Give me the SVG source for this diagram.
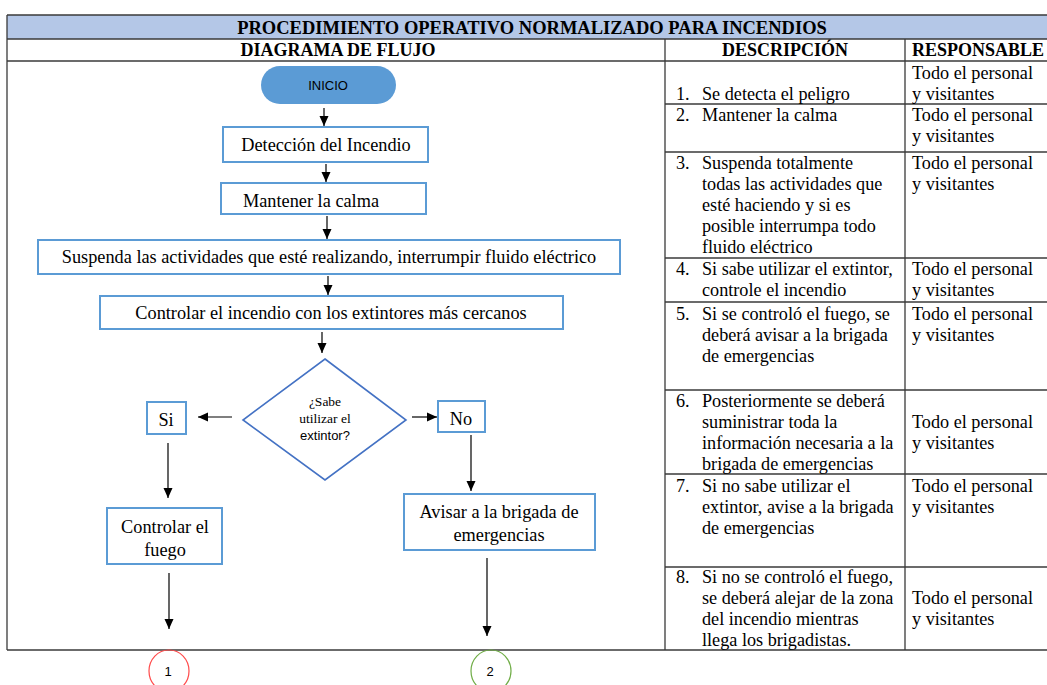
<svg xmlns="http://www.w3.org/2000/svg" width="1047" height="685" viewBox="0 0 1047 685">
<style>
.grid{stroke:#3a3a3a;stroke-width:1.3;fill:none}
.t{font-family:"Liberation Serif","Times New Roman",serif;font-size:18.2px;fill:#000}
.h{font-family:"Liberation Serif","Times New Roman",serif;font-size:18px;font-weight:bold;fill:#000}
.box{fill:#fff;stroke:#5B9BD5;stroke-width:2}
.ft{font-family:"Liberation Serif","Times New Roman",serif;font-size:18.3px;fill:#000}
.sm{font-family:"Liberation Serif","Times New Roman",serif;font-size:13.5px;fill:#000}
.ss{font-family:"Liberation Sans",Arial,sans-serif;font-size:13px;fill:#000}
.c{text-anchor:middle}
.conn line{stroke:#000;stroke-width:1.2;marker-end:url(#ah)}
</style>
<defs>
<marker id="ah" markerUnits="userSpaceOnUse" markerWidth="10" markerHeight="10" refX="10" refY="5" orient="auto">
<path d="M0,0.5 L10,5 L0,9.5 z" fill="#000"/>
</marker>
</defs>
<rect width="1047" height="685" fill="#fff"/>

<g id="table">
<rect x="7" y="15" width="1045" height="24" fill="#B4C7E7"/>
<line class="grid" x1="7" y1="15" x2="1047" y2="15"/>
<line class="grid" x1="7" y1="39" x2="1047" y2="39"/>
<line class="grid" x1="7" y1="61" x2="1047" y2="61"/>
<line class="grid" x1="7" y1="15" x2="7" y2="650"/>
<line class="grid" x1="665" y1="39" x2="665" y2="650"/>
<line class="grid" x1="905" y1="39" x2="905" y2="650"/>
<line class="grid" x1="7" y1="650" x2="1047" y2="650"/>
<line class="grid" x1="665" y1="104" x2="1047" y2="104"/>
<line class="grid" x1="665" y1="152" x2="1047" y2="152"/>
<line class="grid" x1="665" y1="258" x2="1047" y2="258"/>
<line class="grid" x1="665" y1="302" x2="1047" y2="302"/>
<line class="grid" x1="665" y1="390" x2="1047" y2="390"/>
<line class="grid" x1="665" y1="474" x2="1047" y2="474"/>
<line class="grid" x1="665" y1="567" x2="1047" y2="567"/>
<text class="h c" x="532" y="34" style="font-size:18.5px">PROCEDIMIENTO OPERATIVO NORMALIZADO PARA INCENDIOS</text>
<text class="h c" x="338" y="56">DIAGRAMA DE FLUJO</text>
<text class="h c" x="785" y="56">DESCRIPCIÓN</text>
<text class="h" x="912" y="56">RESPONSABLE</text>
</g>

<g id="descripcion">
<text class="t" x="676" y="100">1.</text><text class="t" x="702" y="100">Se detecta el peligro</text>
<text class="t" x="676" y="121">2.</text><text class="t" x="702" y="121">Mantener la calma</text>
<text class="t" x="676" y="169">3.</text>
<text class="t" x="702" y="169">Suspenda totalmente</text>
<text class="t" x="702" y="190">todas las actividades que</text>
<text class="t" x="702" y="211">esté haciendo y si es</text>
<text class="t" x="702" y="232">posible interrumpa todo</text>
<text class="t" x="702" y="253">fluido eléctrico</text>
<text class="t" x="676" y="275">4.</text>
<text class="t" x="702" y="275">Si sabe utilizar el extintor,</text>
<text class="t" x="702" y="296">controle el incendio</text>
<text class="t" x="676" y="320">5.</text>
<text class="t" x="702" y="320">Si se controló el fuego, se</text>
<text class="t" x="702" y="341">deberá avisar a la brigada</text>
<text class="t" x="702" y="362">de emergencias</text>
<text class="t" x="676" y="407">6.</text>
<text class="t" x="702" y="407">Posteriormente se deberá</text>
<text class="t" x="702" y="428">suministrar toda la</text>
<text class="t" x="702" y="449">información necesaria a la</text>
<text class="t" x="702" y="470">brigada de emergencias</text>
<text class="t" x="676" y="492">7.</text>
<text class="t" x="702" y="492">Si no sabe utilizar el</text>
<text class="t" x="702" y="513">extintor, avise a la brigada</text>
<text class="t" x="702" y="534">de emergencias</text>
<text class="t" x="676" y="583">8.</text>
<text class="t" x="702" y="583">Si no se controló el fuego,</text>
<text class="t" x="702" y="604">se deberá alejar de la zona</text>
<text class="t" x="702" y="625">del incendio mientras</text>
<text class="t" x="702" y="646">llega los brigadistas.</text>
</g>

<g id="responsable">
<text class="t" x="912" y="79">Todo el personal</text><text class="t" x="912" y="100">y visitantes</text>
<text class="t" x="912" y="121">Todo el personal</text><text class="t" x="912" y="142">y visitantes</text>
<text class="t" x="912" y="169">Todo el personal</text><text class="t" x="912" y="190">y visitantes</text>
<text class="t" x="912" y="275">Todo el personal</text><text class="t" x="912" y="296">y visitantes</text>
<text class="t" x="912" y="320">Todo el personal</text><text class="t" x="912" y="341">y visitantes</text>
<text class="t" x="912" y="428">Todo el personal</text><text class="t" x="912" y="449">y visitantes</text>
<text class="t" x="912" y="492">Todo el personal</text><text class="t" x="912" y="513">y visitantes</text>
<text class="t" x="912" y="604">Todo el personal</text><text class="t" x="912" y="625">y visitantes</text>
</g>

<g class="conn" id="connectors">
<line x1="324" y1="108" x2="324" y2="126"/>
<line x1="326" y1="164" x2="326" y2="182"/>
<line x1="327" y1="216" x2="327" y2="239"/>
<line x1="328" y1="276" x2="328" y2="295"/>
<line x1="322" y1="332" x2="322" y2="353"/>
<line x1="232" y1="417" x2="198" y2="417"/>
<line x1="412" y1="417" x2="437" y2="417"/>
<line x1="168" y1="443" x2="168" y2="498"/>
<line x1="169" y1="573" x2="169" y2="629"/>
<line x1="471" y1="435" x2="471" y2="491"/>
<line x1="487" y1="558" x2="487" y2="636"/>
</g>

<g id="inicio">
<rect x="261" y="66" width="135" height="38" rx="19" fill="#5B9BD5"/>
<text class="ss c" x="328" y="90" fill="#0d1a33">INICIO</text>
</g>
<g id="deteccion">
<rect class="box" x="223" y="127" width="205" height="35"/>
<text class="ft c" x="326" y="151">Detección del Incendio</text>
</g>
<g id="calma">
<rect class="box" x="221" y="183" width="205" height="31"/>
<text class="ft" x="243" y="207">Mantener la calma</text>
</g>
<g id="suspenda">
<rect class="box" x="38" y="240" width="582" height="34"/>
<text class="ft c" x="329" y="263">Suspenda las actividades que esté realizando, interrumpir fluido eléctrico</text>
</g>
<g id="controlar-incendio">
<rect class="box" x="100" y="296" width="463" height="33"/>
<text class="ft c" x="331" y="319">Controlar el incendio con los extintores más cercanos</text>
</g>
<g id="decision">
<polygon points="325,359 406,420 325,480 243,420" fill="#fff" stroke="#4472C4" stroke-width="1.6"/>
<text class="sm c" x="325" y="406">¿Sabe</text>
<text class="sm c" x="325" y="423">utilizar el</text>
<text class="ss c" x="325" y="440">extintor?</text>
</g>
<g id="si">
<rect class="box" x="147" y="402" width="39" height="32"/>
<text class="ft c" x="166" y="426">Si</text>
</g>
<g id="no">
<rect class="box" x="438" y="401" width="47" height="31"/>
<text class="ft c" x="461" y="425">No</text>
</g>
<g id="controlar-fuego">
<rect class="box" x="107" y="508" width="115" height="56"/>
<text class="ft c" x="165" y="533">Controlar el</text>
<text class="ft c" x="165" y="556">fuego</text>
</g>
<g id="avisar">
<rect class="box" x="404" y="494" width="191" height="56"/>
<text class="ft c" x="499" y="518">Avisar a la brigada de</text>
<text class="ft c" x="499" y="541">emergencias</text>
</g>
<g id="conector-1">
<ellipse cx="169" cy="671" rx="20" ry="21" fill="none" stroke="#FF4B4B" stroke-width="1.2"/>
<text class="ss c" x="168" y="676">1</text>
</g>
<g id="conector-2">
<ellipse cx="491" cy="671" rx="20" ry="21" fill="none" stroke="#70AD47" stroke-width="1.2"/>
<text class="ss c" x="490" y="676">2</text>
</g>
</svg>
